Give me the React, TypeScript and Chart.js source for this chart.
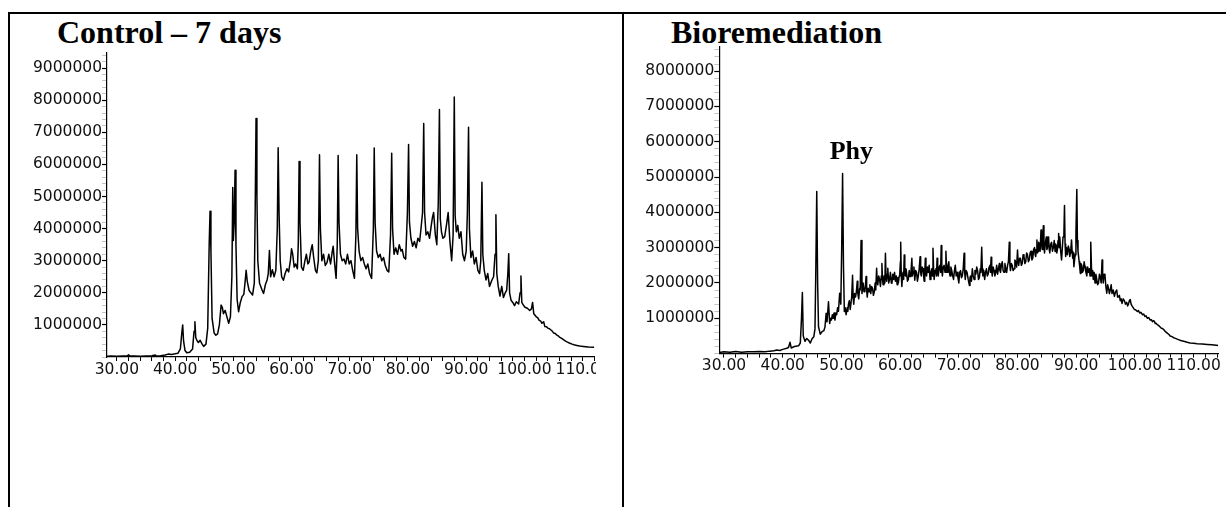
import { useEffect, useRef } from "react";
import { Chart, registerables } from "chart.js";

Chart.register(...registerables);

// Abundance values are stored in millions of counts.
const MILLION = 1e6;

// Control – 7 days: [retention time (min), abundance (M)]
const controlTrace: number[][] = [
  [28.3, 0.02], [29.0, 0.03], [30.0, 0.02], [31.0, 0.03], [31.8, 0.04], [32.0, 0.07], [32.2, 0.03],
  [33.0, 0.03], [34.0, 0.02], [35.0, 0.03], [36.0, 0.04], [36.6, 0.06], [36.8, 0.03], [37.5, 0.04],
  [38.3, 0.06], [38.8, 0.09], [39.4, 0.08], [40.0, 0.1], [40.5, 0.12], [40.9, 0.25], [41.15, 0.75],
  [41.3, 1.0], [41.45, 0.5], [41.7, 0.2], [42.0, 0.13], [42.5, 0.15], [43.0, 0.25], [43.25, 0.8],
  [43.4, 1.1], [43.55, 0.6], [43.8, 0.5], [44.0, 0.45], [44.3, 0.52], [44.6, 0.42], [44.9, 0.33],
  [45.3, 0.4], [45.6, 0.9], [45.85, 3.5], [46.0, 4.54], [46.15, 3.3], [46.35, 1.2], [46.7, 0.75],
  [47.0, 0.68], [47.3, 0.72], [47.6, 1.0], [47.9, 1.62], [48.1, 1.55], [48.3, 1.35], [48.6, 1.45],
  [48.9, 1.25], [49.2, 1.05], [49.5, 1.25], [49.75, 2.5], [49.9, 5.28], [50.0, 3.63], [50.15, 4.2],
  [50.3, 5.82], [50.45, 3.5], [50.65, 1.8], [50.9, 1.41], [51.2, 1.7], [51.5, 1.88], [51.8, 1.95],
  [52.0, 2.3], [52.2, 2.7], [52.4, 2.35], [52.7, 2.08], [53.0, 2.0], [53.3, 1.93], [53.6, 2.3],
  [53.75, 4.5], [53.9, 7.43], [54.05, 5.0], [54.2, 3.0], [54.5, 2.3], [54.9, 2.1], [55.2, 1.98],
  [55.5, 2.25], [55.8, 2.4], [56.0, 2.6], [56.2, 3.32], [56.4, 2.5], [56.7, 2.72], [57.0, 2.5],
  [57.3, 2.7], [57.55, 4.0], [57.7, 6.52], [57.85, 4.5], [58.05, 3.0], [58.3, 2.5], [58.6, 2.39],
  [58.9, 2.6], [59.2, 2.75], [59.5, 2.65], [59.8, 3.0], [60.0, 3.37], [60.2, 3.2], [60.45, 2.8],
  [60.7, 2.9], [61.0, 2.75], [61.15, 3.5], [61.3, 6.09], [61.45, 4.2], [61.7, 2.8], [62.0, 2.7],
  [62.3, 3.0], [62.55, 3.2], [62.8, 2.9], [63.0, 2.95], [63.3, 3.3], [63.55, 3.5], [63.8, 3.1],
  [64.1, 2.7], [64.35, 2.62], [64.6, 3.0], [64.8, 6.3], [64.95, 4.0], [65.2, 3.0], [65.5, 3.2],
  [65.8, 2.85], [66.1, 2.95], [66.4, 3.2], [66.7, 2.9], [67.0, 3.3], [67.15, 3.45], [67.4, 2.9],
  [67.65, 2.45], [67.85, 3.5], [68.0, 6.28], [68.15, 4.2], [68.4, 3.2], [68.7, 3.0], [69.0, 3.05],
  [69.3, 2.9], [69.6, 3.2], [69.9, 2.9], [70.2, 3.0], [70.5, 2.7], [70.8, 2.45], [71.05, 3.8],
  [71.2, 6.3], [71.35, 4.0], [71.6, 3.3], [71.9, 3.0], [72.2, 3.1], [72.5, 2.9], [72.8, 2.75],
  [73.1, 2.9], [73.4, 2.6], [73.75, 2.45], [74.05, 4.0], [74.2, 6.51], [74.35, 4.2], [74.6, 3.3],
  [74.9, 3.1], [75.2, 3.2], [75.5, 3.0], [75.8, 3.1], [76.1, 2.85], [76.4, 2.7], [76.7, 2.65],
  [77.0, 3.8], [77.2, 6.35], [77.35, 4.0], [77.6, 3.2], [77.9, 3.4], [78.2, 3.2], [78.5, 3.5],
  [78.8, 3.3], [79.0, 3.35], [79.3, 3.1], [79.6, 3.05], [79.9, 4.5], [80.1, 6.62], [80.25, 4.2],
  [80.5, 3.7], [80.8, 3.45], [81.1, 3.6], [81.4, 3.4], [81.7, 3.7], [82.0, 3.6], [82.2, 3.94],
  [82.5, 4.5], [82.7, 7.27], [82.85, 4.5], [83.1, 3.8], [83.4, 3.9], [83.7, 3.7], [84.0, 4.1],
  [84.2, 4.35], [84.4, 4.5], [84.7, 3.8], [84.95, 3.5], [85.2, 4.8], [85.4, 7.71], [85.55, 4.3],
  [85.75, 3.9], [86.0, 3.7], [86.3, 3.75], [86.6, 4.1], [86.9, 4.5], [87.2, 3.6], [87.5, 3.0],
  [87.75, 3.8], [87.95, 8.1], [88.1, 4.4], [88.3, 3.9], [88.55, 4.1], [88.8, 3.7], [89.1, 3.9],
  [89.4, 3.2], [89.7, 3.0], [90.0, 3.3], [90.2, 4.5], [90.4, 7.16], [90.55, 4.0], [90.8, 3.1],
  [91.1, 3.3], [91.4, 2.9], [91.7, 3.1], [92.0, 2.7], [92.3, 2.6], [92.5, 3.0], [92.7, 5.44],
  [92.85, 3.2], [93.1, 2.7], [93.4, 2.4], [93.7, 2.6], [94.0, 2.2], [94.4, 2.39], [94.7, 2.5],
  [94.95, 3.2], [95.1, 4.43], [95.25, 2.6], [95.5, 2.2], [95.8, 1.9], [96.1, 2.2], [96.4, 1.85],
  [96.7, 2.0], [96.95, 2.08], [97.15, 2.6], [97.3, 3.22], [97.45, 2.0], [97.7, 1.77], [98.0, 1.7],
  [98.3, 1.6], [98.6, 1.72], [99.0, 1.65], [99.25, 2.0], [99.4, 2.52], [99.55, 1.7], [99.8, 1.62],
  [100.1, 1.55], [100.5, 1.52], [100.9, 1.45], [101.2, 1.5], [101.4, 1.7], [101.6, 1.35], [102.0, 1.26],
  [102.3, 1.22], [102.5, 1.15], [102.8, 1.12], [103.0, 1.05], [103.3, 1.1], [103.5, 0.95], [103.8, 0.94],
  [104.0, 0.9], [104.3, 0.88], [104.5, 0.85], [104.8, 0.8], [105.0, 0.75], [105.3, 0.73], [105.5, 0.69],
  [105.8, 0.66], [106.0, 0.62], [106.4, 0.58], [106.7, 0.54], [107.0, 0.5], [107.3, 0.47], [107.8, 0.43],
  [108.2, 0.4], [108.5, 0.38], [109.0, 0.36], [109.5, 0.34], [110.1, 0.33], [111.0, 0.31], [112.0, 0.3],
];

// Bioremediation: [retention time (min), abundance (M)]
const bioTrace: number[][] = [
  [29.2, 0.03], [30.0, 0.05], [31.0, 0.04], [32.0, 0.06], [33.0, 0.04], [34.0, 0.05], [35.0, 0.05],
  [36.0, 0.06], [37.0, 0.05], [37.8, 0.07], [38.5, 0.08], [39.0, 0.1], [39.5, 0.09], [40.0, 0.12],
  [40.7, 0.15], [41.0, 0.18], [41.25, 0.32], [41.45, 0.16], [42.0, 0.2], [42.7, 0.22], [43.0, 0.3],
  [43.2, 1.0], [43.35, 1.73], [43.5, 0.5], [43.8, 0.35], [44.1, 0.43], [44.4, 0.38], [44.7, 0.3],
  [45.0, 0.42], [45.3, 0.48], [45.5, 0.7], [45.65, 2.5], [45.8, 4.59], [45.95, 2.0], [46.1, 0.76],
  [46.4, 0.55], [46.7, 0.62], [47.0, 0.65], [47.2, 0.75], [47.4, 1.14], [47.55, 0.9], [47.8, 1.47],
  [48.0, 0.85], [48.15, 1.0], [48.3, 0.95], [48.45, 1.1], [48.6, 1.0], [48.75, 1.15], [48.9, 0.95],
  [49.05, 1.15], [49.2, 1.1], [49.35, 1.3], [49.5, 1.2], [49.7, 1.71], [49.9, 1.4], [50.05, 3.0],
  [50.2, 5.1], [50.35, 2.5], [50.5, 1.19], [50.65, 1.3], [50.8, 1.1], [51.0, 1.3], [51.1, 1.2],
  [51.2, 1.4], [51.35, 1.5], [51.5, 1.25], [51.75, 1.6], [51.9, 2.22], [52.0, 1.6], [52.1, 1.4],
  [52.25, 1.7], [52.4, 1.6], [52.55, 1.75], [52.7, 2.05], [52.8, 1.7], [52.95, 1.55], [53.1, 1.85],
  [53.2, 1.8], [53.35, 3.2], [53.5, 1.7], [53.6, 1.85], [53.7, 2.0], [53.85, 1.75], [54.0, 1.8],
  [54.1, 1.95], [54.2, 2.18], [54.3, 1.8], [54.4, 1.6], [54.55, 1.85], [54.7, 1.75], [54.85, 1.95],
  [55.0, 1.7], [55.15, 1.9], [55.3, 1.85], [55.45, 1.65], [55.6, 1.75], [55.75, 2.0], [55.85, 1.8],
  [56.0, 2.42], [56.1, 2.0], [56.2, 1.95], [56.35, 2.2], [56.5, 2.1], [56.65, 1.9], [56.8, 2.2],
  [56.9, 2.55], [57.0, 2.1], [57.1, 1.95], [57.25, 2.2], [57.4, 2.0], [57.5, 2.84], [57.6, 2.2],
  [57.7, 2.05], [57.8, 2.25], [57.9, 2.42], [58.05, 2.0], [58.2, 2.1], [58.35, 2.3], [58.5, 2.0],
  [58.6, 1.99], [58.75, 2.25], [58.9, 2.1], [59.05, 2.3], [59.2, 2.05], [59.35, 2.2], [59.5, 1.95],
  [59.6, 2.15], [59.7, 2.0], [59.85, 2.2], [59.95, 2.3], [60.05, 2.6], [60.1, 3.15], [60.2, 2.2],
  [60.3, 1.9], [60.4, 2.2], [60.5, 2.3], [60.6, 2.1], [60.7, 2.79], [60.8, 2.3], [60.9, 2.2],
  [61.0, 2.4], [61.1, 2.3], [61.25, 2.05], [61.4, 2.1], [61.55, 2.35], [61.7, 2.18], [61.85, 2.3],
  [62.0, 2.7], [62.1, 2.2], [62.2, 2.3], [62.35, 2.45], [62.5, 2.08], [62.65, 2.35], [62.8, 2.3],
  [62.95, 2.05], [63.1, 2.2], [63.25, 2.4], [63.4, 2.74], [63.5, 2.3], [63.6, 2.2], [63.75, 2.45],
  [63.9, 2.4], [64.0, 2.2], [64.1, 2.05], [64.2, 2.3], [64.3, 2.7], [64.4, 2.25], [64.5, 2.2],
  [64.65, 2.45], [64.8, 2.3], [64.95, 2.5], [65.1, 2.1], [65.25, 2.3], [65.4, 2.4], [65.5, 2.2],
  [65.6, 2.98], [65.7, 2.4], [65.8, 2.1], [65.95, 2.35], [66.1, 2.4], [66.2, 2.2], [66.3, 2.7],
  [66.4, 2.35], [66.5, 2.2], [66.65, 2.45], [66.8, 2.5], [66.9, 2.3], [67.0, 3.06], [67.1, 2.4],
  [67.2, 2.2], [67.35, 2.45], [67.5, 2.5], [67.65, 2.3], [67.8, 2.9], [67.9, 2.45], [68.0, 2.3],
  [68.15, 2.5], [68.3, 2.6], [68.4, 2.3], [68.5, 2.2], [68.65, 2.45], [68.8, 2.35], [68.95, 2.2],
  [69.1, 2.1], [69.25, 2.35], [69.4, 2.5], [69.55, 2.2], [69.7, 2.3], [69.85, 2.15], [70.0, 2.0],
  [70.15, 2.3], [70.3, 2.35], [70.45, 2.15], [70.6, 2.2], [70.75, 2.4], [70.9, 2.84], [71.0, 2.3],
  [71.1, 2.1], [71.25, 2.35], [71.4, 2.3], [71.6, 2.1], [71.8, 1.93], [71.9, 2.15], [72.0, 2.2],
  [72.15, 2.05], [72.3, 2.4], [72.45, 2.2], [72.6, 2.1], [72.75, 2.35], [72.9, 2.25], [73.05, 2.45],
  [73.2, 2.35], [73.35, 2.1], [73.5, 2.15], [73.65, 2.4], [73.75, 2.3], [73.9, 3.01], [74.0, 2.4],
  [74.1, 2.2], [74.25, 2.35], [74.4, 2.1], [74.55, 2.3], [74.7, 2.4], [74.85, 2.2], [75.0, 2.25],
  [75.15, 2.45], [75.3, 2.5], [75.4, 2.3], [75.5, 2.73], [75.6, 2.35], [75.7, 2.2], [75.85, 2.45],
  [76.0, 2.35], [76.15, 2.2], [76.3, 2.3], [76.45, 2.5], [76.6, 2.25], [76.75, 2.4], [76.9, 2.55],
  [77.0, 2.35], [77.1, 2.3], [77.25, 2.5], [77.4, 2.6], [77.55, 2.35], [77.7, 2.3], [77.85, 2.55],
  [78.0, 2.4], [78.15, 2.3], [78.3, 2.5], [78.45, 2.6], [78.6, 3.15], [78.7, 2.5], [78.8, 2.35],
  [78.95, 2.55], [79.1, 2.5], [79.25, 2.35], [79.4, 2.4], [79.55, 2.65], [79.7, 2.6], [79.85, 2.45],
  [80.0, 2.93], [80.1, 2.6], [80.2, 2.5], [80.35, 2.7], [80.5, 2.7], [80.65, 2.5], [80.8, 2.55],
  [80.95, 2.8], [81.1, 2.75], [81.25, 2.55], [81.4, 2.6], [81.55, 2.85], [81.7, 2.8], [81.85, 2.6],
  [82.0, 2.65], [82.15, 2.85], [82.3, 2.9], [82.45, 2.65], [82.6, 2.7], [82.75, 2.95], [82.9, 3.0],
  [83.0, 2.8], [83.1, 2.75], [83.2, 2.95], [83.3, 3.22], [83.4, 2.85], [83.5, 2.9], [83.6, 3.15],
  [83.7, 3.1], [83.85, 2.9], [84.0, 3.5], [84.1, 3.1], [84.2, 2.95], [84.3, 3.2], [84.4, 3.62],
  [84.5, 3.0], [84.6, 2.85], [84.75, 3.15], [84.9, 3.3], [85.0, 2.95], [85.1, 3.0], [85.2, 3.3],
  [85.3, 3.25], [85.4, 2.95], [85.5, 2.85], [85.65, 3.1], [85.8, 3.15], [85.95, 2.9], [86.1, 3.0],
  [86.25, 3.2], [86.4, 2.89], [86.5, 3.1], [86.6, 3.05], [86.7, 2.85], [86.8, 2.95], [86.9, 3.2],
  [87.0, 3.4], [87.1, 3.0], [87.2, 3.3], [87.35, 2.9], [87.5, 2.65], [87.6, 2.9], [87.75, 3.3],
  [87.9, 3.4], [88.0, 4.19], [88.1, 3.1], [88.2, 2.75], [88.35, 3.0], [88.5, 2.8], [88.65, 3.05],
  [88.8, 2.95], [88.9, 2.75], [89.0, 2.85], [89.1, 3.0], [89.2, 3.22], [89.3, 2.9], [89.4, 2.7],
  [89.5, 2.85], [89.6, 2.46], [89.75, 2.7], [89.85, 2.8], [89.95, 3.4], [90.1, 4.65], [90.2, 3.2],
  [90.3, 2.9], [90.4, 2.75], [90.5, 2.6], [90.6, 2.45], [90.7, 2.27], [90.8, 2.55], [90.95, 2.5],
  [91.05, 2.3], [91.2, 2.35], [91.35, 2.6], [91.5, 2.45], [91.65, 2.3], [91.8, 2.2], [91.95, 2.45],
  [92.1, 2.3], [92.25, 2.4], [92.35, 2.2], [92.45, 2.6], [92.5, 3.15], [92.6, 2.4], [92.7, 2.2],
  [92.8, 2.35], [92.9, 2.1], [93.05, 2.3], [93.2, 2.0], [93.35, 2.25], [93.5, 2.1], [93.65, 1.95],
  [93.8, 2.0], [93.95, 2.25], [94.1, 2.15], [94.25, 2.0], [94.4, 2.65], [94.5, 2.2], [94.6, 2.0],
  [94.75, 2.25], [94.9, 2.2], [95.05, 1.9], [95.2, 1.71], [95.35, 1.95], [95.5, 1.85], [95.65, 1.7],
  [95.8, 1.8], [95.95, 1.95], [96.1, 1.7], [96.3, 1.8], [96.5, 1.62], [96.7, 1.75], [96.9, 1.8],
  [97.05, 1.6], [97.2, 1.6], [97.35, 1.65], [97.5, 1.5], [97.65, 1.55], [97.8, 1.42], [98.0, 1.55],
  [98.2, 1.5], [98.4, 1.4], [98.6, 1.45], [98.75, 1.35], [98.9, 1.4], [99.05, 1.5], [99.2, 1.53],
  [99.35, 1.4], [99.5, 1.35], [99.7, 1.3], [99.9, 1.25], [100.1, 1.24], [100.4, 1.19], [100.6, 1.22],
  [100.8, 1.15], [101.0, 1.17], [101.3, 1.1], [101.5, 1.12], [101.7, 1.05], [101.9, 1.07], [102.1, 1.0],
  [102.35, 1.02], [102.6, 0.95], [102.8, 0.96], [103.0, 0.9], [103.15, 0.93], [103.3, 0.92], [103.45, 0.85],
  [103.6, 0.86], [103.8, 0.82], [104.0, 0.8], [104.25, 0.76], [104.5, 0.72], [104.7, 0.71], [104.9, 0.68],
  [105.2, 0.62], [105.5, 0.58], [105.8, 0.54], [106.0, 0.5], [106.3, 0.48], [106.6, 0.45], [106.9, 0.43],
  [107.2, 0.41], [107.5, 0.39], [107.8, 0.37], [108.3, 0.35], [108.9, 0.32], [109.4, 0.3], [110.0, 0.29],
  [110.6, 0.28], [111.5, 0.27], [112.3, 0.26], [113.1, 0.25], [114.2, 0.23],
];

// Labelled retention times on the x axes
const timeLabels = [30, 40, 50, 60, 70, 80, 90, 100, 110];
// Labelled abundance ticks (M)
const controlAbundanceLabels = [1, 2, 3, 4, 5, 6, 7, 8, 9];
const bioAbundanceLabels = [1, 2, 3, 4, 5, 6, 7, 8];

// Minor tick spacing of the axes
const TIME_STEP = 2;
const ABUNDANCE_STEP_M = 0.2;

// Peak annotation on the bioremediation trace
const bioNoteText = ["Phy"];
const bioNoteTime = [51.7];
const bioNoteAbundance = [5.5];

type PanelProps = {
  trace: number[][];
  xMin: number;
  xMax: number;
  yMaxM: number;
  yLabels: number[];
  left: number;
  top: number;
  width: number;
  height: number;
  padTop: number;
  padRight: number;
  yAxisWidth: number;
  xAxisHeight: number;
  noteText?: string[];
  noteTime?: number[];
  noteAbundance?: number[];
};

const tickFont = { family: '"DejaVu Sans", sans-serif', size: 15.5, lineHeight: 1 };

const near = (a: number, b: number) => Math.abs(a - b) < 1e-6;

function Chromatogram(p: PanelProps) {
  const ref = useRef<HTMLCanvasElement>(null);

  useEffect(() => {
    const canvas = ref.current;
    if (!canvas) return;

    const notes = {
      id: "peakNotes",
      afterDatasetsDraw(chart: any) {
        const texts = p.noteText || [];
        if (!texts.length) return;
        const ctx = chart.ctx;
        const xs = chart.scales.x;
        const ys = chart.scales.y;
        ctx.save();
        ctx.font = 'bold 26px "Liberation Serif", serif';
        ctx.fillStyle = "#000";
        ctx.textAlign = "center";
        ctx.textBaseline = "alphabetic";
        texts.forEach((t, i) => {
          ctx.fillText(
            t,
            xs.getPixelForValue(p.noteTime![i]),
            ys.getPixelForValue(p.noteAbundance![i] * MILLION)
          );
        });
        ctx.restore();
      },
    };

    const isMajorY = (v: number) => p.yLabels.some((l) => near(l, v / MILLION));

    const chart = new Chart(canvas, {
      type: "line",
      data: {
        datasets: [
          {
            data: p.trace.map(([t, m]) => ({ x: t, y: m * MILLION })),
            borderColor: "#000",
            borderWidth: 1.5,
            pointRadius: 0,
            tension: 0,
            fill: false,
            borderJoinStyle: "round",
          },
        ],
      },
      options: {
        responsive: false,
        animation: false,
        events: [],
        layout: {
          autoPadding: false,
          padding: { top: p.padTop, right: p.padRight, bottom: 0, left: 0 },
        },
        plugins: {
          legend: { display: false },
          tooltip: { enabled: false },
          title: { display: false },
        },
        scales: {
          x: {
            type: "linear",
            position: "bottom",
            min: p.xMin,
            max: p.xMax,
            border: { display: true, color: "#000", width: 1.2 },
            grid: {
              drawOnChartArea: false,
              drawTicks: true,
              tickLength: 4,
              tickColor: "#000",
              tickWidth: 1,
            },
            ticks: {
              autoSkip: false,
              maxRotation: 0,
              minRotation: 0,
              padding: 1,
              color: "#111",
              font: tickFont,
              callback: (v: any) => {
                const n = Number(v);
                return timeLabels.some((t) => near(t, n)) ? n.toFixed(2) : "";
              },
            },
            afterBuildTicks: (s: any) => {
              const ticks: { value: number }[] = [];
              for (let k = Math.ceil(p.xMin / TIME_STEP); k * TIME_STEP <= p.xMax; k++) {
                ticks.push({ value: k * TIME_STEP });
              }
              s.ticks = ticks;
            },
            afterFit: (s: any) => {
              s.height = p.xAxisHeight;
            },
          },
          y: {
            type: "linear",
            min: 0,
            max: p.yMaxM * MILLION,
            border: { display: true, color: "#000", width: 1.2 },
            grid: {
              drawOnChartArea: false,
              drawTicks: true,
              tickLength: 5,
              tickColor: (c: any) => (c.tick && isMajorY(c.tick.value) ? "#000" : "#b5b5b5"),
              tickWidth: (c: any) => (c.tick && isMajorY(c.tick.value) ? 1.2 : 0.8),
            },
            ticks: {
              autoSkip: false,
              padding: 0,
              color: "#111",
              font: tickFont,
              callback: (v: any) => {
                const m = Number(v) / MILLION;
                const hit = p.yLabels.find((l) => near(l, m));
                return hit !== undefined ? String(Math.round(hit * MILLION)) : "";
              },
            },
            afterBuildTicks: (s: any) => {
              const ticks: { value: number }[] = [];
              for (let k = 0; k * ABUNDANCE_STEP_M <= p.yMaxM; k++) {
                ticks.push({ value: Math.round(k * ABUNDANCE_STEP_M * MILLION) });
              }
              s.ticks = ticks;
            },
            afterFit: (s: any) => {
              s.width = p.yAxisWidth;
            },
          },
        },
      },
      plugins: [notes],
    } as any);

    return () => chart.destroy();
  }, []);

  return (
    <canvas
      ref={ref}
      width={p.width}
      height={p.height}
      style={{ position: "absolute", left: p.left, top: p.top, width: p.width, height: p.height }}
    />
  );
}

const titleStyle: any = {
  position: "absolute",
  top: 16,
  font: 'bold 32px "Liberation Serif", serif',
  lineHeight: "32px",
  whiteSpace: "nowrap",
  color: "#000",
};

export default function App() {
  return (
    <div
      style={{
        position: "fixed",
        left: 0,
        top: 0,
        width: 1226,
        height: 507,
        background: "#fff",
        overflow: "hidden",
      }}
    >
      <div style={{ position: "absolute", left: 8, top: 12, width: 1218, height: 2, background: "#000" }} />
      <div style={{ position: "absolute", left: 8, top: 12, width: 2, height: 495, background: "#000" }} />
      <div style={{ position: "absolute", left: 622, top: 12, width: 2, height: 495, background: "#000" }} />

      <div style={{ ...titleStyle, left: 57 }}>Control – 7 days</div>
      <div style={{ ...titleStyle, left: 671 }}>Bioremediation</div>

      <Chromatogram
        trace={controlTrace}
        xMin={28.3}
        xMax={112}
        yMaxM={9.47}
        yLabels={controlAbundanceLabels}
        left={20}
        top={40}
        width={576}
        height={350}
        padTop={13}
        padRight={1.7}
        yAxisWidth={87}
        xAxisHeight={33}
      />
      <Chromatogram
        trace={bioTrace}
        xMin={29.2}
        xMax={114.2}
        yMaxM={8.69}
        yLabels={bioAbundanceLabels}
        left={630}
        top={35}
        width={594}
        height={355}
        padTop={11.7}
        padRight={5.7}
        yAxisWidth={89.3}
        xAxisHeight={36.4}
        noteText={bioNoteText}
        noteTime={bioNoteTime}
        noteAbundance={bioNoteAbundance}
      />
    </div>
  );
}
